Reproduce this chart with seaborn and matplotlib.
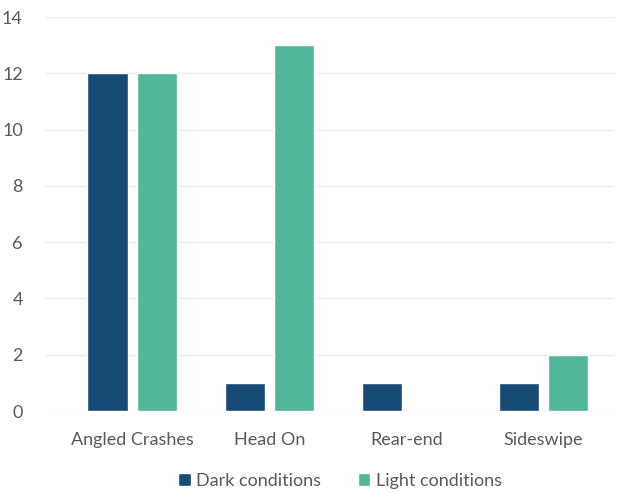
import matplotlib
matplotlib.use("Agg")
import matplotlib.pyplot as plt
import seaborn as sns
import pandas as pd

categories = ["Angled Crashes", "Head On", "Rear-end", "Sideswipe"]
dark_conditions = [12, 1, 1, 1]
light_conditions = [12, 13, 0, 2]
series_names = ["Dark conditions", "Light conditions"]
y_ticks = [0, 2, 4, 6, 8, 10, 12, 14]

colors = {"Dark conditions": "#174B75", "Light conditions": "#52B69A"}

df = pd.DataFrame({
    "category": categories * 2,
    "series": [series_names[0]] * len(categories) + [series_names[1]] * len(categories),
    "count": dark_conditions + light_conditions,
})

sns.set_theme(style="white")
plt.rcParams["font.family"] = ["Lato", "DejaVu Sans"]

fig = plt.figure(figsize=(6.19, 4.93), dpi=100)
ax = fig.add_axes([45 / 619, 1 - 411 / 493, (615 - 45) / 619, (411 - 17) / 493])

sns.barplot(data=df, x="category", y="count", hue="series", order=categories,
            hue_order=series_names, palette=colors, width=0.715, gap=0.18,
            saturation=1, ax=ax, legend=True)

ax.set_ylim(0, 14)
ax.set_xlim(-0.635, 3.52)
ax.set_yticks(y_ticks)
ax.yaxis.grid(True, color="#EFEBEB", linewidth=1.0)
ax.set_axisbelow(True)
for s in ax.spines.values():
    s.set_visible(False)
ax.set_xlabel("")
ax.set_ylabel("")
ax.tick_params(axis="x", length=0, pad=15, labelsize=13, labelcolor="#595959")
ax.tick_params(axis="y", length=0, pad=16, labelsize=13, labelcolor="#595959")

leg = ax.legend(loc="center", bbox_to_anchor=(340 / 619, 1 - 481 / 493),
                bbox_transform=fig.transFigure, ncol=2, frameon=False,
                fontsize=13, handlelength=0.7, handleheight=0.7, handletextpad=0.3,
                columnspacing=2.0, borderpad=0)
for t in leg.get_texts():
    t.set_color("#595959")

fig.savefig("out.png", dpi=100)
